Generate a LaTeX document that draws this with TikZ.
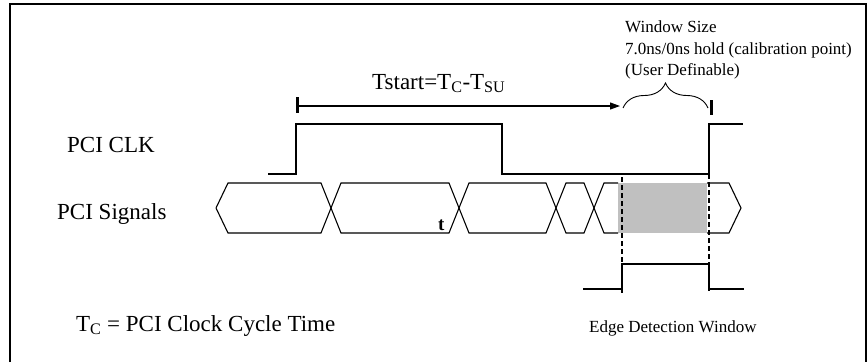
\documentclass[tikz,border=0pt]{standalone}
\usepackage{fontspec}
\setmainfont{Liberation Serif}
\usetikzlibrary{arrows.meta,decorations.pathreplacing}
\begin{document}
\begin{tikzpicture}[x=1pt,y=-1pt,
  wave/.style={line width=1.1pt,line join=miter},
  dashv/.style={line width=1.2pt,dash pattern=on 5pt off 3pt},
  tickmark/.style={line width=3pt},
  biglabel/.style={inner sep=0pt,anchor=base west,font=\fontsize{23}{27}\selectfont},
  smalllabel/.style={inner sep=0pt,anchor=base west,font=\fontsize{17}{21}\selectfont},
  windowfill/.style={fill={rgb,255:red,192;green,192;blue,192}}]
\useasboundingbox (0,0) rectangle (868,362);
% frame (bottom edge lies below the picture)
\draw[line width=2pt] (10,362) -- (10,4) -- (866,4) -- (866,362);

% labels
\node[biglabel] (clklabel) at (67,152) {PCI CLK};
\node[biglabel] (siglabel) at (57,219) {PCI Signals};
\node[biglabel] (tclabel) at (76,331) {T\textsubscript{C} = PCI Clock Cycle Time};
\node[biglabel] (tstart) at (372,89) {Tstart=T\textsubscript{C}-T\textsubscript{SU}};
\node[smalllabel] (win1) at (625,32) {Window Size};
\node[smalllabel] (win2) at (625,54) {7.0ns/0ns hold (calibration point)};
\node[smalllabel] (win3) at (625,75) {(User Definable)};
\node[smalllabel] (edgelabel) at (589,332) {Edge Detection Window};
\node[inner sep=0pt,anchor=base west,font=\fontsize{19}{22}\selectfont\bfseries] (tmark) at (438,230) {t};

% Tstart dimension arrow
\coordinate (ts0) at (297,106);
\coordinate (ts1) at (620,106);
\draw[tickmark] (297,97) -- (297,113);
\draw[line width=1.1pt,-{Triangle[length=10pt,width=7pt]}] (ts0) -- (ts1);
\draw[tickmark] (711,100) -- (711,115);

% window brace
\coordinate (br0) at (623,108);
\coordinate (br1) at (708,108);
\draw[line width=0.9pt,decorate,decoration={brace,amplitude=25pt}] (br0) -- (br1);

% PCI CLK
\draw[wave] (268,174) -- (296,174) -- (296,124) -- (502,124) -- (502,174)
  -- (709,174) -- (709,124) -- (743,124);

% PCI signals
\fill[windowfill] (618,183) rectangle (707,233);
\draw[wave] (216,208) -- (228,183) -- (321,183) -- (341,233) -- (449,233)
  -- (469,183) -- (546,183) -- (566,233) -- (584,233) -- (604,183) -- (618,183);
\draw[wave] (216,208) -- (228,233) -- (321,233) -- (341,183) -- (449,183)
  -- (469,233) -- (546,233) -- (566,183) -- (584,183) -- (604,233) -- (618,233);
\draw[wave] (707,183) -- (729,183) -- (741,208) -- (729,233) -- (707,233);

% dashed edge markers
\draw[dashv] (622,177) -- (622,293);
\draw[dashv] (709,174) -- (709,293);

% edge detection window
\draw[wave] (583,289) -- (622,289) -- (622,264) -- (709,264) -- (709,289) -- (744,289);
\end{tikzpicture}
\end{document}
